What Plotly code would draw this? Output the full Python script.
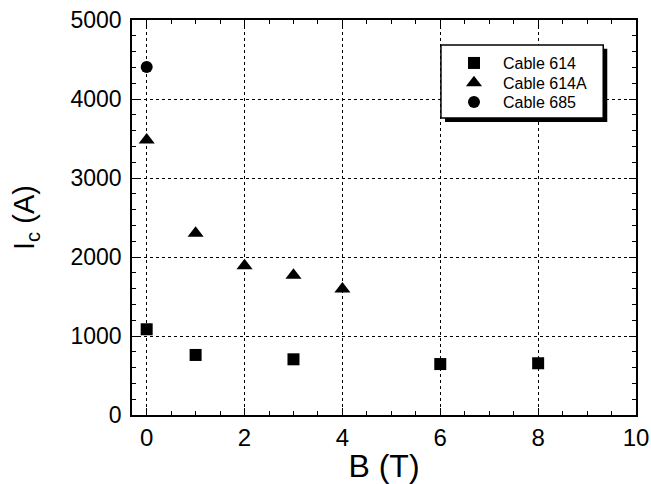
import plotly.graph_objects as go

b_614 = [0, 1, 3, 6, 8]
ic_614 = [1085, 760, 705, 645, 655]
b_614a = [0, 1, 2, 3, 4]
ic_614a = [3480, 2300, 1890, 1770, 1595]
b_685 = [0]
ic_685 = [4405]

x_ticks = [0, 2, 4, 6, 8, 10]
y_ticks = [0, 1000, 2000, 3000, 4000, 5000]

fig = go.Figure()
fig.add_trace(go.Scatter(x=b_614, y=ic_614, mode="markers", name="Cable 614", legend="legend",
                         marker=dict(symbol="square", size=12, color="black")))
fig.add_trace(go.Scatter(x=b_614a, y=ic_614a, mode="markers", name="Cable 614A", legend="legend2",
                         marker=dict(symbol="triangle-up", size=14, color="black")))
fig.add_trace(go.Scatter(x=b_685, y=ic_685, mode="markers", name="Cable 685", legend="legend3",
                         marker=dict(symbol="circle", size=12, color="black")))

font = "Liberation Sans, Arial, Helvetica, sans-serif"
axis_common = dict(
    showline=True, linecolor="black", linewidth=1.5, mirror="ticks",
    ticks="inside", ticklen=7, tickwidth=1.2, tickcolor="black",
    showgrid=True, gridcolor="black", griddash="dot", gridwidth=1.3,
    zeroline=False, automargin=False, ticklabeloverflow="allow",
)
fig.update_xaxes(range=[-0.3, 10], tickvals=x_ticks,
                 tickfont=dict(family=font, size=24, color="black"),
                 minor=dict(dtick=0.5, ticks="inside", ticklen=4, tickcolor="black", showgrid=False),
                 title=dict(text="B (T)", font=dict(family=font, size=32, color="black"), standoff=5),
                 **axis_common)
fig.update_yaxes(range=[0, 5000], tickvals=y_ticks, ticklabelstandoff=4,
                 tickfont=dict(family=font, size=23, color="black"),
                 minor=dict(dtick=200, ticks="inside", ticklen=4, tickcolor="black", showgrid=False),
                 title=dict(text="I<sub>c</sub> (A)", font=dict(family=font, size=29, color="black"), standoff=27),
                 **axis_common)

# legend box with drop shadow
fig.add_shape(type="rect", xref="paper", yref="paper",
              x0=0.621, x1=0.943, y0=0.742, y1=0.927,
              fillcolor="black", line=dict(width=0), layer="above")
fig.add_shape(type="rect", xref="paper", yref="paper",
              x0=0.613, x1=0.935, y0=0.752, y1=0.937,
              fillcolor="white", line=dict(color="black", width=1.5), layer="above")

leg_common = dict(xanchor="left", yanchor="middle", bgcolor="rgba(0,0,0,0)", borderwidth=0,
                  font=dict(family=font, size=16, color="black"), itemwidth=48)
fig.update_layout(
    width=651, height=484,
    margin=dict(l=132, r=15, t=20, b=69),
    paper_bgcolor="white", plot_bgcolor="white",
    showlegend=True,
    legend=dict(x=0.621, y=0.891, **leg_common),
    legend2=dict(x=0.621, y=0.841, **leg_common),
    legend3=dict(x=0.621, y=0.792, **leg_common),
)

fig.write_html("out.html", config={"displayModeBar": False},
               post_script="document.body.style.margin='0';document.body.style.overflow='hidden';")
